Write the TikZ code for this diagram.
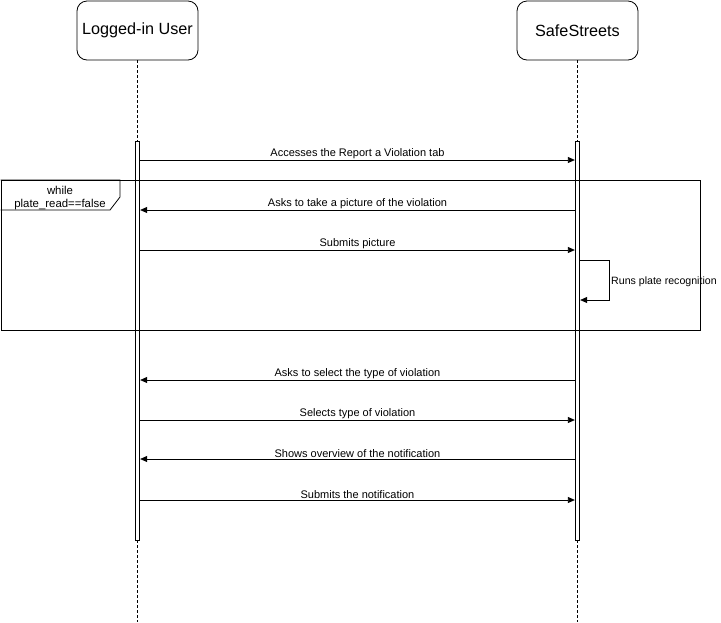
\documentclass[tikz,border=0pt]{standalone}
\usepackage{fontspec}
\setmainfont{Liberation Sans}
\usetikzlibrary{arrows.meta}
\begin{document}
\begin{tikzpicture}[x=1pt,y=-1pt,
  actor/.style={draw, rounded corners=10pt, minimum width=121pt, minimum height=59pt, inner sep=0pt, font=\fontsize{16.2}{19}\selectfont, line width=0.8pt},
  actbar/.style={draw, fill=white, minimum width=4.5pt, minimum height=399pt, inner sep=0pt, line width=0.8pt},
  msg/.style={-{Triangle[length=7pt,width=6pt]}, line width=0.8pt},
  lbl/.style={font=\fontsize{11}{13}\selectfont, above, inner sep=1.2pt},
  life/.style={dash pattern=on 3pt off 2pt, line width=0.8pt}]
\useasboundingbox (0,0) rectangle (721,622);
% actors
\node[actor] (u) at (137.5,30.5) {Logged-in User};
\node[actor] (s) at (577.5,30.5) {SafeStreets};
\coordinate (ue) at (137.5,622);
\coordinate (se) at (577.5,622);
\draw[life] (u.south) -- (ue);
\draw[life] (s.south) -- (se);
\node[actbar] (ub) at (137.5,340.5) {};
\node[actbar] (sb) at (577.5,340.5) {};
% loop frame
\node[draw, line width=0.8pt, minimum width=699pt, minimum height=150pt, inner sep=0pt, anchor=north west] (loop) at (0.5,180) {};
\draw[line width=0.8pt] (loop.north west) -- ++(119.5,0) -- ++(0,17) -- ++(-10,13) -- ++(-109.5,0);
\node[font=\fontsize{11.4}{13.5}\selectfont, align=center] (cond) at (60,198) {while\\plate\_read==false};
% messages
\draw[msg] (ub.east |- 0,160) -- node[lbl]{Accesses the Report a Violation tab} (sb.west |- 0,160);
\draw[msg] (sb.west |- 0,210) -- node[lbl]{Asks to take a picture of the violation} (ub.east |- 0,210);
\draw[msg] (ub.east |- 0,250) -- node[lbl]{Submits picture} (sb.west |- 0,250);
\draw[msg] (sb.east |- 0,260) -- ++(29,0) -- ++(0,40) -- (sb.east |- 0,300);
\node[font=\fontsize{10.6}{12}\selectfont, anchor=west, inner sep=0pt] (rl) at (611,282) {Runs plate recognition};
\draw[msg] (sb.west |- 0,380) -- node[lbl]{Asks to select the type of violation} (ub.east |- 0,380);
\draw[msg] (ub.east |- 0,420) -- node[lbl]{Selects type of violation} (sb.west |- 0,420);
\draw[msg] (sb.west |- 0,459) -- node[lbl]{Shows overview of the notification} (ub.east |- 0,459);
\draw[msg] (ub.east |- 0,500) -- node[lbl]{Submits the notification} (sb.west |- 0,500);
\end{tikzpicture}
\end{document}
